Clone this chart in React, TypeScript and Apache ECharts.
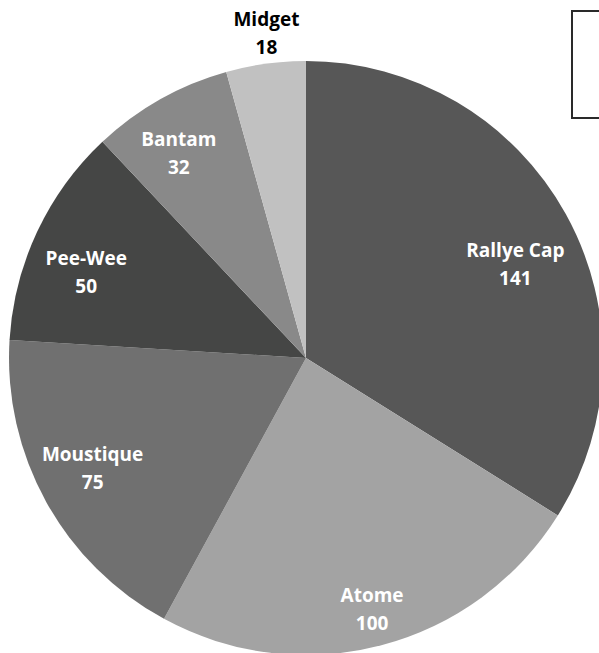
import React, { useEffect, useRef } from "react";
import * as echarts from "echarts";

const categories = ["Rallye Cap", "Atome", "Moustique", "Pee-Wee", "Bantam", "Midget"];
const values = [141, 100, 75, 50, 32, 18];
const sliceColors = ["#575757", "#a3a3a3", "#707070", "#454645", "#898989", "#c1c1c1"];
const labelColors = ["#ffffff", "#ffffff", "#ffffff", "#ffffff", "#ffffff", "#000000"];
const labelShift: number[][] = [[-1, 23], [5, 18], [-3, -7], [-2, 16], [-9, 4], [-7, -87]];

export default function App() {
  const ref = useRef<HTMLDivElement>(null);
  useEffect(() => {
    const chart = echarts.init(ref.current!, null, { renderer: "svg" });
    const R = 297;
    const center = [306, 358];
    chart.setOption({
      animation: false,
      backgroundColor: "#ffffff",
      graphic: [
        {
          type: "rect",
          shape: { x: 572, y: 11, width: 60, height: 107 },
          style: { fill: "#ffffff", stroke: "#2a2a2a", lineWidth: 2 },
          z: 10,
        },
      ],
      series: [
        {
          type: "pie",
          center,
          radius: [0, R],
          startAngle: 90,
          clockwise: true,
          silent: true,
          label: { show: false },
          labelLine: { show: false },
          itemStyle: { borderWidth: 0 },
          data: categories.map((name, i) => ({
            name,
            value: values[i],
            itemStyle: { color: sliceColors[i] },
          })),
        },
        {
          type: "pie",
          center,
          radius: [178, R],
          startAngle: 90,
          clockwise: true,
          silent: true,
          avoidLabelOverlap: false,
          itemStyle: { color: "transparent", borderWidth: 0 },
          label: {
            show: true,
            position: "inside",
            rotate: 0,
            formatter: "{b}\n{c}",
            fontFamily: "Open Sans",
            fontWeight: "bold",
            fontSize: 19,
            lineHeight: 28,
            align: "center",
          },
          labelLine: { show: false },
          labelLayout: (p: any) => ({ dx: labelShift[p.dataIndex][0], dy: labelShift[p.dataIndex][1] }),
          data: categories.map((name, i) => ({
            name,
            value: values[i],
            label: { color: labelColors[i] },
          })),
        },
      ],
    });
    return () => chart.dispose();
  }, []);
  return (
    <div
      ref={ref}
      style={{ position: "fixed", left: 0, top: 0, width: 599, height: 653 }}
    />
  );
}
